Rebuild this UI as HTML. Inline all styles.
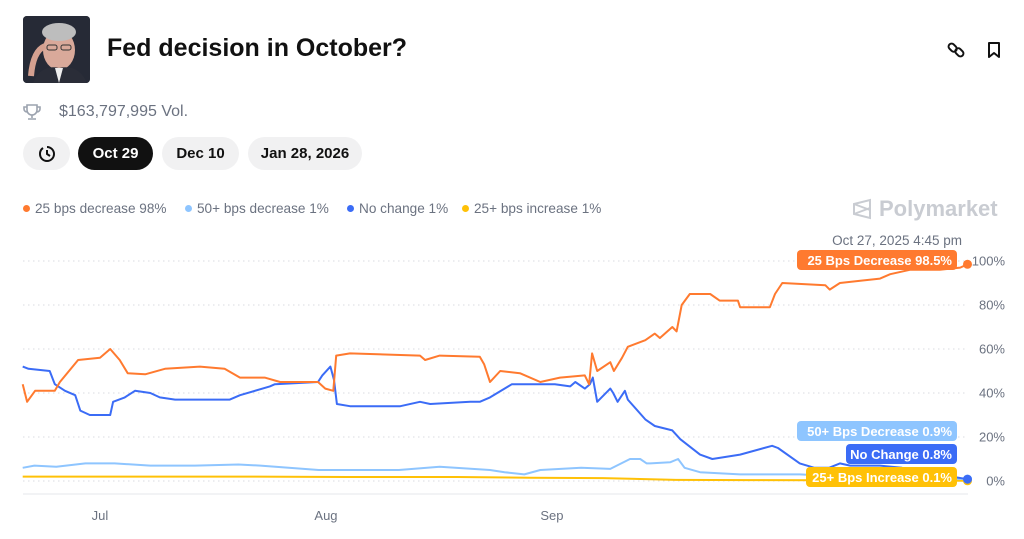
<!DOCTYPE html>
<html><head><meta charset="utf-8"><style>
body{margin:0;width:1024px;height:539px;background:#fff;font-family:"Liberation Sans",sans-serif;position:relative;overflow:hidden}
.abs{position:absolute}
.pill{position:absolute;top:137px;height:33px;border-radius:17px;background:#f1f1f2;font-size:15px;line-height:33px;text-align:center;color:#111;font-weight:bold}
.leg{position:absolute;top:201px;font-size:13.6px;color:#6b7280;white-space:nowrap}
.leg i{display:inline-block;width:7px;height:7px;border-radius:50%;margin-right:5px;vertical-align:1px}
</style></head><body>
<div class="abs" style="left:23px;top:16px;width:67px;height:67px;border-radius:4px;overflow:hidden;background:#2b2f3a">
<svg width="67" height="67"><rect width="67" height="67" fill="#262a36"/><ellipse cx="36" cy="34" rx="16" ry="20" fill="#d9a99a"/><ellipse cx="36" cy="16" rx="17" ry="9" fill="#bdbdbd"/><path d="M10 67 Q18 48 36 52 Q56 48 64 67Z" fill="#2a2d38"/><path d="M32 52 L36 67 L40 52Z" fill="#eee"/><rect x="24" y="29" width="10" height="5" rx="2" fill="none" stroke="#333"/><rect x="38" y="29" width="10" height="5" rx="2" fill="none" stroke="#333"/><path d="M8 60 Q10 35 22 30" stroke="#d4a090" stroke-width="6" fill="none"/></svg></div>
<div class="abs" style="left:107px;top:34px;font-size:25px;font-weight:bold;color:#111">Fed decision in October?</div>
<svg class="abs" style="left:946px;top:40px" width="20" height="20"><g fill="none" stroke="#111" stroke-width="2"><rect x="2" y="5" width="9" height="6" rx="3" transform="rotate(45 7 8)"/><rect x="9" y="9" width="9" height="6" rx="3" transform="rotate(45 13 12)"/></g></svg>
<svg class="abs" style="left:986px;top:41px" width="16" height="18"><path d="M3 2h10v14l-5-4-5 4z" fill="none" stroke="#111" stroke-width="2" stroke-linejoin="round"/></svg>
<svg class="abs" style="left:23px;top:103px" width="18" height="18"><path d="M4 2h10v5a5 5 0 0 1-10 0zM4 4H1v2a3 3 0 0 0 3 3M14 4h3v2a3 3 0 0 1-3 3M9 12v3M5 16h8" fill="none" stroke="#9ca3af" stroke-width="1.6"/></svg>
<div class="abs" style="left:59px;top:103px;font-size:16px;color:#6b7280">$163,797,995 Vol.</div>
<div class="pill" style="left:23px;width:47px"><svg width="20" height="20" style="margin-top:7px"><path d="M10 3a7 7 0 1 1-7 7M10 6v4l3 2" fill="none" stroke="#111" stroke-width="2"/><path d="M3 10 A7 7 0 0 1 6 4" fill="none" stroke="#111" stroke-width="2"/></svg></div>
<div class="pill" style="left:78px;width:75px;background:#111;color:#fff">Oct 29</div>
<div class="pill" style="left:162px;width:77px">Dec 10</div>
<div class="pill" style="left:248px;width:114px">Jan 28, 2026</div>
<div class="leg" style="left:23px"><i style="background:#ff7a2f"></i>25 bps decrease 98%</div>
<div class="leg" style="left:185px"><i style="background:#8ec5ff"></i>50+ bps decrease 1%</div>
<div class="leg" style="left:347px"><i style="background:#3b6cf6"></i>No change 1%</div>
<div class="leg" style="left:462px"><i style="background:#ffc107"></i>25+ bps increase 1%</div>
<div class="abs" style="left:851px;top:196px;font-size:22px;color:#c9ccd2;font-weight:bold;white-space:nowrap"><svg width="22" height="22" style="vertical-align:-4px;margin-right:6px"><path d="M3 6l16-4v18L3 16z M3 6l16 6M3 16l16-6" fill="none" stroke="#c9ccd2" stroke-width="2"/></svg>Polymarket</div>
<svg id="chart" class="abs" style="left:0;top:0" width="1024" height="539"></svg>
<script>
const yTicks=[0,20,40,60,80,100];
const monthLabels=["Jul","Aug","Sep"];
const monthDays=[11,42,73];
const orangeDays=[0.4,1,2.1,4.8,5.5,8,11,12.4,13.7,14.8,17.2,19.9,24.7,28.1,30.2,33.6,35.7,40.9,41.9,43,43.4,45.3,54.9,55.6,57.6,63.1,63.7,64.5,65.9,68.6,71.4,74.1,77.5,78.1,78.5,79.2,81,81.5,82.6,83.4,85.8,87.1,87.8,89.5,90.1,90.8,91.9,94.7,96,98.5,98.8,102.9,103.6,104.6,110.5,111.1,112.5,115.3,118,119.4,122.1,126.2,129,130];
const orangeVals=[44,36,41,41,45,55,56,60,55,49,48.5,51,52,51,47,47,45,45,42,41,57,58,57,55,57,56.5,53,45,50,49,45,47,48,44,58,50,54,50,56,61,64,67,65,70,68,80,85,85,82,82,79,79,85,90,89,87,90,91,92,94,96,96,97,98.5];
const blueDays=[0.4,1.2,4.1,4.8,6.2,7.6,8.3,9.6,12.4,12.8,14.4,15.8,17.9,19.2,21.3,26.8,28.8,30.2,34.3,35,40.9,41.5,42.6,43.1,43.5,45.3,52.2,54.9,56.3,61.8,63.1,64.5,67.5,71.4,73.4,75.5,76.2,77.5,78.2,78.6,79.2,81,81.4,82,83,83.4,85.8,87.1,89.5,90.6,93.3,95,98.8,103.2,104,107,109,111,112.5,113.9,118,121,126,130];
const blueVals=[52,51,50,44,41,39,32,30,30,36,38,41,40,38,37,37,37,39,43,44,45,48,52,46,35,34,34,36,35,36,36,38,44,44,44,43,45,42,44,47,36,42,40,36,41,37,28,25,23,19,12,10,12,16,15,8,6,6,8,7,7,6,3,0.8];
const lightDays=[0.4,2,5,9,13,17.9,24,30,33,41,52,57.6,64.5,66.5,69.2,71.4,77,81,83.7,85.1,86,86.5,89.2,90.3,91.2,93.3,98.8,107,113,120,130];
const lightVals=[6,7,6.5,8,8,7,7,7.5,7,5,5,6.5,5,4,3,5,6,5.5,10,10,8,8,8.5,10,6,4,3,3,2,1.5,0.9];
const yellowDays=[0.4,5,15,30,45,60,70,80,90,100,110,120,130];
const yellowVals=[2,2,2,2,1.8,1.8,1.5,1.3,0.5,0.4,0.3,0.2,0.1];
const NS="http://www.w3.org/2000/svg";
const svg=document.getElementById('chart');
const X=d=>19.8+d*7.29;
const Y=v=>481-v*2.2;
function mk(t,a,p){const e=document.createElementNS(NS,t);for(const k in a)e.setAttribute(k,a[k]);(p||svg).appendChild(e);return e;}
yTicks.forEach(v=>{
 const l=mk('line',{x1:23,x2:968,y1:Y(v),y2:Y(v),stroke:'#d9dbe0','stroke-dasharray':'1.5 3.5'});
 
 
 const t=mk('text',{x:1005,y:Y(v)+4.5,'text-anchor':'end','font-size':13,fill:'#6b7280','font-family':'Liberation Sans'});
 t.textContent=v+'%';
 
 
});
const ax=mk('line',{x1:23,x2:968,y1:494,y2:494,stroke:'#e5e7eb','stroke-width':1});


monthLabels.forEach((m,i)=>{
 const t=mk('text',{x:X(monthDays[i]),y:520,'text-anchor':'middle','font-size':13,fill:'#6b7280','font-family':'Liberation Sans'});
 t.textContent=m;
 
 
});
function series(days,vals,color,name){
 const d=days.map((x,i)=>(i?'L':'M')+X(x).toFixed(1)+' '+Y(vals[i]).toFixed(1)).join(' ');
 const p=mk('path',{d:d,fill:'none',stroke:color,'stroke-width':2,'stroke-linejoin':'round'});
 
 
 const n=days.length-1;
 const c=mk('circle',{cx:X(days[n]),cy:Y(vals[n]),r:4.5,fill:color});
 
 
}
series(yellowDays,yellowVals,'#ffc107','line-25-increase');
series(lightDays,lightVals,'#8ec5ff','line-50-decrease');
series(blueDays,blueVals,'#3b6cf6','line-no-change');
series(orangeDays,orangeVals,'#ff7a2f','line-25-decrease');
const dt=mk('text',{x:962,y:245,'text-anchor':'end','font-size':13.5,fill:'#6b7280','font-family':'Liberation Sans'});
dt.textContent='Oct 27, 2025 4:45 pm';


function label(x,y,w,text,bg,name){
 const r=mk('rect',{x:x,y:y,width:w,height:20,rx:4,fill:bg});
 
 
 const t=mk('text',{x:x+w-5,y:y+15,'text-anchor':'end','font-size':13,'font-weight':'bold',fill:'#fff','font-family':'Liberation Sans'});
 t.textContent=text;
 
 
}
label(797,250,160,'25 Bps Decrease 98.5%','#ff7a2f','label-25-decrease');
label(797,421,160,'50+ Bps Decrease 0.9%','#8ec5ff','label-50-decrease');
label(846,444,111,'No Change 0.8%','#3b6cf6','label-no-change');
label(806,467,151,'25+ Bps Increase 0.1%','#ffc107','label-25-increase');
</script>
</body></html>
